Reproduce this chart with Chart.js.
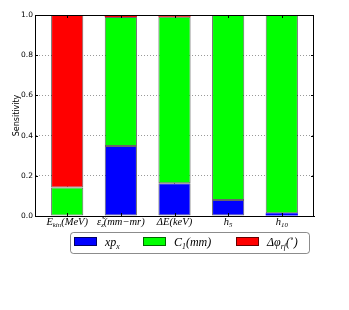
<!DOCTYPE html>
<html><head><meta charset="utf-8">
<script src="https://cdn.jsdelivr.net/npm/chart.js@4/dist/chart.umd.min.js"></script>
<style>html,body{margin:0;padding:0;background:#fff;}#wrap{width:349px;height:310px;}</style>
</head><body><div id="wrap"><canvas id="c" width="349" height="310"></canvas></div>
<script>
const categories = ['E_{kin}(MeV)', '\u03b5\u0303_z(mm\u2212mr)', '\u0394E(keV)', 'h_5', 'h_{10}'];
const xpX = [0.0, 0.348, 0.163, 0.08, 0.014];
const c1mm = [0.142, 0.642, 0.828, 0.92, 0.986];
const dPhiRf = [0.858, 0.01, 0.009, 0.0, 0.0];
const seriesNames = ['xp_x', 'C_1(mm)', '\u0394\u03c6_{rf}(^\u2218)'];
const seriesColors = ['#0000ff', '#00ff00', '#ff0000'];
const yTicks = [0.0, 0.2, 0.4, 0.6, 0.8, 1.0];
const yTitle = 'Sensitivity';

function segs(str){
  const out=[]; let i=0, buf='';
  while(i<str.length){
    const c=str[i];
    if(c==='_'||c==='^'){
      if(buf){out.push({t:buf,m:0}); buf='';}
      let t;
      if(str[i+1]==='{'){ const j=str.indexOf('}',i); t=str.slice(i+2,j); i=j+1; }
      else { t=str[i+1]; i+=2; }
      out.push({t:t, m:c==='_'?1:2});
    } else { buf+=c; i++; }
  }
  if(buf) out.push({t:buf,m:0});
  return out;
}
function fontFor(m,size){
  const s = m===0 ? size : size*0.65;
  return 'italic ' + s + 'px "Liberation Serif", "DejaVu Serif", serif';
}
function drawRich(ctx, str, x, y, size, align){
  const parts = segs(str);
  let w = 0;
  parts.forEach(p=>{ ctx.font = fontFor(p.m,size); p.w = ctx.measureText(p.t).width; w += p.w; });
  let cx = align==='center' ? x - w/2 : x;
  ctx.textAlign='left'; ctx.textBaseline='alphabetic'; ctx.fillStyle='#000';
  parts.forEach(p=>{
    ctx.font = fontFor(p.m,size);
    const dy = p.m===1 ? size*0.25 : (p.m===2 ? -size*0.4 : 0);
    ctx.fillText(p.t, cx, y+dy);
    cx += p.w;
  });
}

const extras = {
  id:'extras',
  afterDraw(chart){
    const ctx = chart.ctx, a = chart.chartArea, xs = chart.scales.x, ys = chart.scales.y;
    ctx.save();
    ctx.strokeStyle='#000'; ctx.lineWidth=1;
    ctx.strokeRect(Math.round(a.left)+0.5, Math.round(a.top)+0.5, Math.round(a.right-a.left)-1, Math.round(a.bottom-a.top));
    ctx.beginPath();
    yTicks.forEach(v=>{
      const py = Math.round(ys.getPixelForValue(v))+0.5;
      ctx.moveTo(a.left, py); ctx.lineTo(a.left+3, py);
      ctx.moveTo(a.right, py); ctx.lineTo(a.right-3, py);
    });
    categories.forEach((c,i)=>{
      const px = Math.round(xs.getPixelForValue(i))+0.5;
      ctx.moveTo(px, a.bottom); ctx.lineTo(px, a.bottom-3);
      ctx.moveTo(px, a.top); ctx.lineTo(px, a.top+3);
    });
    ctx.stroke();
    categories.forEach((c,i)=>{
      drawRich(ctx, c, xs.getPixelForValue(i), a.bottom+8.5, 10.5, 'center');
    });
    const bx=70.5, by=232.5, bw=239, bh=21, r=3;
    ctx.beginPath();
    ctx.moveTo(bx+r,by); ctx.lineTo(bx+bw-r,by); ctx.quadraticCurveTo(bx+bw,by,bx+bw,by+r);
    ctx.lineTo(bx+bw,by+bh-r); ctx.quadraticCurveTo(bx+bw,by+bh,bx+bw-r,by+bh);
    ctx.lineTo(bx+r,by+bh); ctx.quadraticCurveTo(bx,by+bh,bx,by+bh-r);
    ctx.lineTo(bx,by+r); ctx.quadraticCurveTo(bx,by,bx+r,by); ctx.closePath();
    ctx.fillStyle='#fff'; ctx.fill();
    ctx.strokeStyle='rgba(0,0,0,0.45)'; ctx.stroke();
    const itemX = [74, 143, 236];
    chart.data.datasets.forEach((ds,i)=>{
      ctx.fillStyle = ds.backgroundColor;
      ctx.fillRect(itemX[i], 237, 23, 9);
      ctx.strokeStyle='rgba(0,0,0,0.6)'; ctx.lineWidth=1;
      ctx.strokeRect(itemX[i]+0.5, 237.5, 22, 8);
      drawRich(ctx, seriesNames[i], itemX[i]+31, 246, 12, 'left');
    });
    ctx.restore();
  }
};

const series = [xpX, c1mm, dPhiRf];
const datasets = series.map((vals,k)=>({
  label: seriesNames[k],
  data: vals.map((v,i)=>({x:i, y:v})),
  backgroundColor: seriesColors[k],
  borderColor: 'rgba(0,0,0,0.6)',
  borderWidth: (c)=> (c.raw && c.raw.y > 0.02) ? 1 : 0,
  borderSkipped: false,
  barPercentage: 0.6,
  categoryPercentage: 1.0
}));

new Chart(document.getElementById('c'), {
  type:'bar',
  data:{datasets:datasets},
  options:{
    responsive:false, animation:false,
    layout:{padding:{left:0, top:15, right:35, bottom:0}},
    plugins:{legend:{display:false}, tooltip:{enabled:false}},
    scales:{
      x:{
        type:'linear', stacked:true, min:-0.6, max:4.6, z:1, offset:false,
        afterBuildTicks:(s)=>{ s.ticks = categories.map((c,i)=>({value:i})); },
        afterFit:(s)=>{ s.height = 94; },
        ticks:{display:false},
        grid:{color:'rgba(0,0,0,0.4)', lineWidth:1, drawTicks:false, offset:false},
        border:{display:true, color:'#000', dash:[1,2]}
      },
      y:{
        stacked:true, min:0, max:1, z:1,
        afterBuildTicks:(s)=>{ s.ticks = yTicks.map(v=>({value:v})); },
        afterFit:(s)=>{ s.width = 35; },
        ticks:{padding:2, color:'#000', font:{family:'"DejaVu Sans"', size:7.5}, callback:(v)=>v.toFixed(1)},
        grid:{color:'rgba(0,0,0,0.4)', lineWidth:1, drawTicks:false},
        border:{display:true, color:'#000', dash:[1,2]},
        title:{display:true, text:yTitle, color:'#000', font:{family:'"DejaVu Sans"', size:8}, padding:{top:12, bottom:0}}
      }
    }
  },
  plugins:[extras]
});
</script></body></html>
